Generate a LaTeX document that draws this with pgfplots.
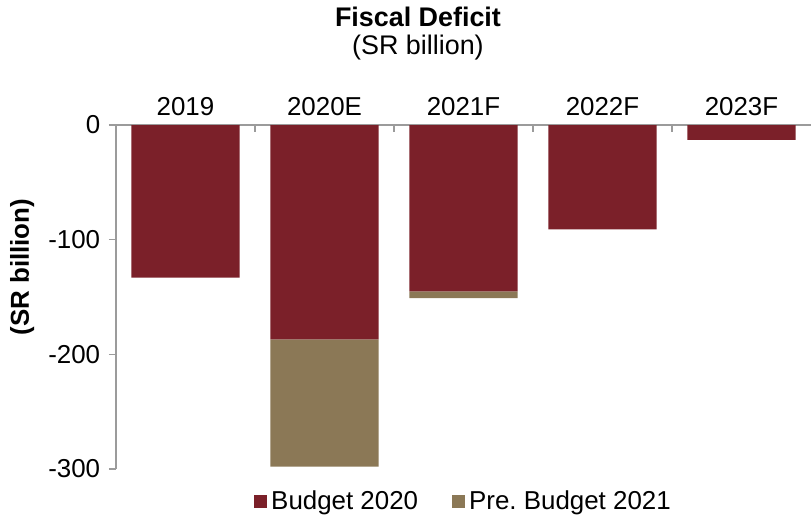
\documentclass[border=0pt]{standalone}
\usepackage{pgfplots}
\pgfplotsset{compat=1.18}
\usepackage{fontspec}
\setmainfont{Liberation Sans}
\definecolor{bud}{RGB}{123,32,41}
\definecolor{pre}{RGB}{139,120,86}
\definecolor{axgray}{RGB}{155,155,155}
\begin{document}
\fontsize{26}{31}\selectfont
\begin{tikzpicture}
\useasboundingbox (-116bp,-49bp) rectangle (695bp,469bp);
\begin{axis}[
  scale only axis, width=695bp, height=344bp,
  ybar stacked, bar width=0.78,
  xmin=-0.5, xmax=4.5, ymin=-300, ymax=0,
  axis x line*=top, axis y line*=left,
  axis line style={axgray, line width=1.2bp},
  xtick={0.5,1.5,2.5,3.5}, xticklabels={},
  extra x ticks={0,1,2,3,4},
  extra x tick labels={2019,2020E,2021F,2022F,2023F},
  extra x tick style={major tick length=0pt},
  xtick align=inside, ytick align=outside,
  major tick length=7bp,
  tick style={axgray, line width=1.2bp},
  ytick={-300,-200,-100,0},
  yticklabels={-300,-200,-100,0},
  /pgf/number format/assume math mode=true,
  xticklabel style={font=\fontsize{26}{31}\selectfont},
  yticklabel style={font=\fontsize{26}{31}\selectfont},
  legend style={draw=none, fill=none, at={(axis description cs:0.5,-0.096)}, anchor=center,
    legend columns=2, font=\fontsize{26}{31}\selectfont,
    /tikz/every even column/.append style={column sep=32bp},
    nodes={inner sep=2bp}},
  legend image code/.code={\fill[#1] (0bp,-5.5bp) rectangle (13bp,7.5bp); \path (15bp,0bp);},
  clip=false,
]
\addplot[fill=bud, draw=none] coordinates {(0,-133) (1,-187) (2,-145) (3,-91) (4,-13)};
\addplot[fill=pre, draw=none] coordinates {(0,0) (1,-111) (2,-6) (3,0) (4,0)};
\legend{Budget 2020, Pre.\ Budget 2021}
\node[font=\fontsize{27}{32}\selectfont, align=center] at (axis description cs:0.4345,1.266)
  {\textbf{Fiscal Deficit}\\[-4bp](SR billion)};
\node[font=\fontsize{26}{31}\selectfont\bfseries, rotate=90] at (axis description cs:-0.135,0.587) {(SR billion)};
\end{axis}
\end{tikzpicture}
\end{document}
